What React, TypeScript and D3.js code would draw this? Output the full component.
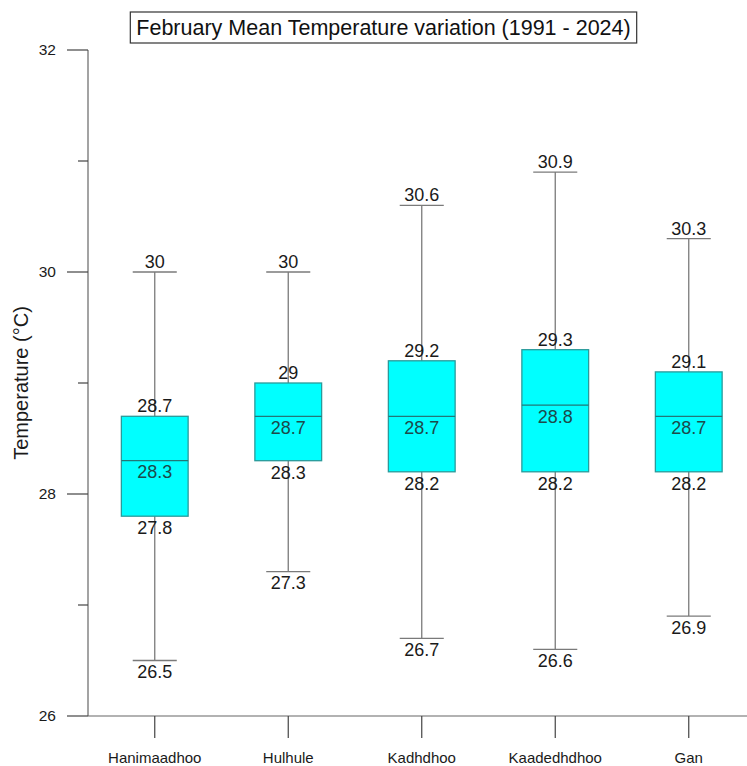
import React, { useRef, useEffect } from 'react';
import * as d3 from 'd3';

const stations = ['Hanimaadhoo', 'Hulhule', 'Kadhdhoo', 'Kaadedhdhoo', 'Gan'];
const minVals = [26.5, 27.3, 26.7, 26.6, 26.9];
const q1Vals = [27.8, 28.3, 28.2, 28.2, 28.2];
const medianVals = [28.3, 28.7, 28.7, 28.8, 28.7];
const q3Vals = [28.7, 29.0, 29.2, 29.3, 29.1];
const maxVals = [30.0, 30.0, 30.6, 30.9, 30.3];
const majorTicks = [26, 28, 30, 32];
const minorTicks = [27, 29, 31];

const W = 747;
const H = 766;
const FONT = '"Liberation Sans", Arial, sans-serif';

const App = () => {
  const svgRef = useRef(null);

  useEffect(() => {
    const svg = d3.select(svgRef.current);
    svg.selectAll('*').remove();

    const left = 88;
    const bottom = 716;
    const top = 50;

    const y = d3.scaleLinear().domain([26, 32]).range([bottom, top]);
    const x = d3.scaleBand().domain(stations).range([left, left + 5 * 133.5]).padding(0);

    const axisColor = '#666';
    const textColor = '#1a1a1a';

    // y axis
    svg.append('line')
      .attr('x1', left).attr('x2', left)
      .attr('y1', y(32)).attr('y2', y(26))
      .attr('stroke', axisColor).attr('stroke-width', 1.2);
    svg.selectAll('.major').data(majorTicks).enter().append('line')
      .attr('x1', left - 21).attr('x2', left)
      .attr('y1', d => y(d)).attr('y2', d => y(d))
      .attr('stroke', '#444').attr('stroke-width', 1.2);
    svg.selectAll('.minor').data(minorTicks).enter().append('line')
      .attr('x1', left - 10).attr('x2', left)
      .attr('y1', d => y(d)).attr('y2', d => y(d))
      .attr('stroke', '#444').attr('stroke-width', 1.2);
    svg.selectAll('.ylab').data(majorTicks).enter().append('text')
      .attr('x', left - 32).attr('y', d => y(d))
      .attr('dy', '0.35em')
      .attr('text-anchor', 'end')
      .attr('font-family', FONT).attr('font-size', 15.5)
      .attr('fill', textColor)
      .text(d => d);

    svg.append('text')
      .attr('transform', `translate(28,${(top + bottom) / 2}) rotate(-90)`)
      .attr('text-anchor', 'middle')
      .attr('font-family', FONT).attr('font-size', 20)
      .attr('fill', textColor)
      .text('Temperature (°C)');

    // x axis
    svg.append('line')
      .attr('x1', left).attr('x2', W)
      .attr('y1', bottom).attr('y2', bottom)
      .attr('stroke', axisColor).attr('stroke-width', 1.2);

    const idx = stations.map((_, i) => i);
    const cx = (i: number) => (x(stations[i]) as number) + x.bandwidth() / 2;
    const boxW = x.bandwidth() * 0.5;
    const capW = x.bandwidth() * 0.33;

    svg.selectAll('.xtick').data(idx).enter().append('line')
      .attr('x1', cx).attr('x2', cx)
      .attr('y1', bottom).attr('y2', bottom + 22)
      .attr('stroke', '#444').attr('stroke-width', 1.2);
    svg.selectAll('.xlab').data(idx).enter().append('text')
      .attr('x', cx).attr('y', bottom + 47)
      .attr('text-anchor', 'middle')
      .attr('font-family', FONT).attr('font-size', 15)
      .attr('fill', textColor)
      .text(i => stations[i]);

    const g = svg.append('g');
    // whiskers
    g.selectAll('.whisker').data(idx).enter().append('line')
      .attr('x1', cx).attr('x2', cx)
      .attr('y1', i => y(minVals[i])).attr('y2', i => y(maxVals[i]))
      .attr('stroke', '#7a7a7a').attr('stroke-width', 1.3);
    g.selectAll('.capTop').data(idx).enter().append('line')
      .attr('x1', i => cx(i) - capW / 2).attr('x2', i => cx(i) + capW / 2)
      .attr('y1', i => y(maxVals[i])).attr('y2', i => y(maxVals[i]))
      .attr('stroke', '#7a7a7a').attr('stroke-width', 1.3);
    g.selectAll('.capBot').data(idx).enter().append('line')
      .attr('x1', i => cx(i) - capW / 2).attr('x2', i => cx(i) + capW / 2)
      .attr('y1', i => y(minVals[i])).attr('y2', i => y(minVals[i]))
      .attr('stroke', '#7a7a7a').attr('stroke-width', 1.3);
    // boxes
    g.selectAll('.box').data(idx).enter().append('rect')
      .attr('x', i => cx(i) - boxW / 2)
      .attr('y', i => y(q3Vals[i]))
      .attr('width', boxW)
      .attr('height', i => y(q1Vals[i]) - y(q3Vals[i]))
      .attr('fill', '#00ffff')
      .attr('stroke', '#2a9a9a').attr('stroke-width', 1.3);
    g.selectAll('.median').data(idx).enter().append('line')
      .attr('x1', i => cx(i) - boxW / 2).attr('x2', i => cx(i) + boxW / 2)
      .attr('y1', i => y(medianVals[i])).attr('y2', i => y(medianVals[i]))
      .attr('stroke', '#227777').attr('stroke-width', 1.3);

    const fmt = (v: number) => String(+v.toFixed(1));
    const label = (vals: number[], dy: number, cls: string, color: string) => {
      g.selectAll('.' + cls).data(idx).enter().append('text')
        .attr('x', cx).attr('y', i => y(vals[i]) + dy)
        .attr('text-anchor', 'middle')
        .attr('font-family', FONT).attr('font-size', 18)
        .attr('fill', color)
        .text(i => fmt(vals[i]));
    };
    label(maxVals, -4, 'lmax', textColor);
    label(q3Vals, -4, 'lq3', textColor);
    label(medianVals, 17.5, 'lmed', '#1d4a4a');
    label(q1Vals, 18, 'lq1', textColor);
    label(minVals, 17.5, 'lmin', textColor);

    // title
    const title = svg.append('text')
      .attr('x', 383.5).attr('y', 35)
      .attr('text-anchor', 'middle')
      .attr('font-family', FONT).attr('font-size', 21.5)
      .attr('fill', '#111')
      .text('February Mean Temperature variation (1991 - 2024)');
    const tw = (title.node() as SVGTextElement).getComputedTextLength();
    svg.insert('rect', 'text')
      .attr('x', 383.5 - tw / 2 - 6).attr('y', 12)
      .attr('width', tw + 12).attr('height', 31)
      .attr('fill', 'white')
      .attr('stroke', '#333').attr('stroke-width', 1.2);
  }, []);

  return (
    <svg
      ref={svgRef}
      width={W}
      height={H}
      style={{ position: 'absolute', left: 0, top: 0, background: 'white' }}
    ></svg>
  );
};

export default App;
